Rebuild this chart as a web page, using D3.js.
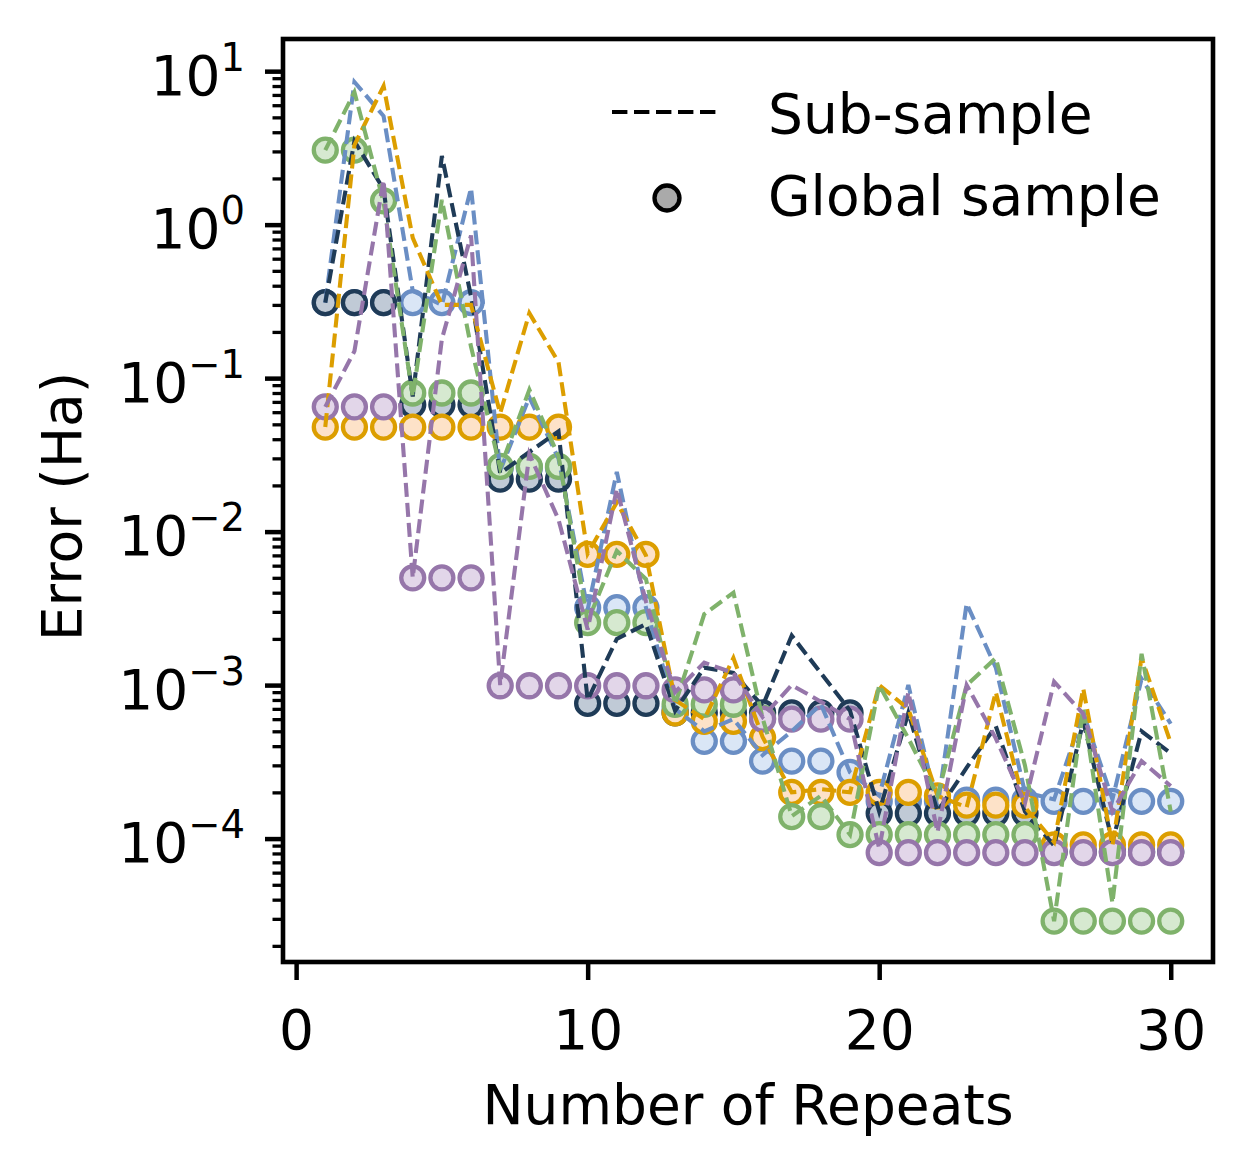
<!DOCTYPE html>
<html><head><meta charset="utf-8">
<script src="https://cdn.jsdelivr.net/npm/d3@7/dist/d3.min.js"></script>
<style>
body{margin:0;background:#fff}
text{font-family:"DejaVu Sans",sans-serif;fill:#000}
</style>
</head><body>
<svg id="chart" width="1253" height="1173"></svg>
<script>
// ---------------- data ----------------
const repeats = [1,2,3,4,5,6,7,8,9,10,11,12,13,14,15,16,17,18,19,20,21,22,23,24,25,26,27,28,29,30];

// Sub-sample (dashed lines)
const navySub   = [0.31,3.5,1.7,0.076,2.8,0.34,0.024,0.033,0.045,8e-4,2.0e-3,2.5e-3,6.8e-4,1.3e-3,1.2e-3,7.3e-4,2.1e-3,1.2e-3,6.8e-4,1.5e-4,6.6e-4,1.5e-4,2.9e-4,5.4e-4,1.5e-4,9e-5,5.8e-4,9.5e-5,5e-4,3.6e-4];
const blueSub   = [0.31,8.5,5.1,0.37,0.3,1.73,0.025,0.075,0.03,3.1e-3,0.0245,3.2e-3,7e-4,5e-4,6e-4,3.5e-4,5e-4,7.5e-4,2.7e-4,1.9e-4,1.0e-3,1.6e-4,3.4e-3,1.3e-3,2e-4,1.8e-4,6.6e-4,1.8e-4,1.1e-3,5.6e-4];
const orangeSub = [0.048,3.3,8.0,0.82,0.3,0.3,0.059,0.265,0.127,7.2e-3,0.0155,7e-3,8e-4,6e-4,1.5e-3,4.6e-4,2e-4,2.1e-4,2e-4,1e-3,7e-4,1.9e-4,1.6e-4,9e-4,1.6e-4,9.5e-5,9.5e-4,9e-5,1.5e-3,4.2e-4];
const greenSub  = [3.06,7.3,1.4,0.076,1.45,0.16,0.026,0.084,0.031,2.6e-3,7.5e-3,4.9e-3,7.5e-4,2.9e-3,4e-3,6.1e-4,1.4e-4,1.9e-4,1.06e-4,1e-3,4.5e-4,1.9e-4,1e-3,1.5e-3,3e-4,2.9e-5,7e-4,3.8e-5,1.6e-3,1.5e-4];
const purpleSub = [0.065,0.15,1.95,5e-3,0.18,0.85,1e-3,0.032,0.012,2.3e-3,0.019,3.5e-3,9e-4,1.4e-3,1.2e-3,6.2e-4,1.0e-3,7.8e-4,6e-4,8.6e-5,9e-4,1.1e-4,1e-3,4.5e-4,1.7e-4,1.05e-3,6.5e-4,1.5e-4,3.2e-4,2.2e-4];

// Global sample (circles)
const navyGlobal   = [0.31,0.31,0.31,0.067,0.067,0.067,0.022,0.022,0.022,7.6e-4,7.6e-4,7.6e-4,6.6e-4,6.6e-4,6.6e-4,6.6e-4,6.6e-4,6.6e-4,6.6e-4,1.46e-4,1.46e-4,1.46e-4,1.46e-4,1.46e-4,1.46e-4,8.2e-5,8.2e-5,8.2e-5,8.2e-5,8.2e-5];
const blueGlobal   = [0.31,0.31,0.31,0.31,0.31,0.31,0.026,0.026,0.026,3.2e-3,3.2e-3,3.2e-3,7e-4,4.3e-4,4.3e-4,3.2e-4,3.2e-4,3.2e-4,2.7e-4,1.75e-4,1.75e-4,1.75e-4,1.78e-4,1.78e-4,1.78e-4,1.75e-4,1.75e-4,1.75e-4,1.75e-4,1.75e-4];
const orangeGlobal = [0.048,0.048,0.048,0.048,0.048,0.048,0.048,0.048,0.048,7.1e-3,7.1e-3,7.1e-3,6.6e-4,5.8e-4,5.8e-4,4.55e-4,2.0e-4,2.0e-4,2.0e-4,2.0e-4,2.0e-4,1.9e-4,1.65e-4,1.65e-4,1.65e-4,9.1e-5,9.1e-5,9.1e-5,9.1e-5,9.1e-5];
const greenGlobal  = [3.06,3.06,1.43,0.080,0.080,0.080,0.0266,0.0266,0.0266,2.55e-3,2.55e-3,2.55e-3,7.5e-4,7.5e-4,7.5e-4,6.1e-4,1.39e-4,1.39e-4,1.06e-4,1.06e-4,1.06e-4,1.06e-4,1.06e-4,1.06e-4,1.06e-4,2.9e-5,2.9e-5,2.9e-5,2.9e-5,2.9e-5];
const purpleGlobal = [0.065,0.065,0.065,5.0e-3,5.0e-3,5.0e-3,9.9e-4,9.9e-4,9.9e-4,9.9e-4,9.9e-4,9.9e-4,9.3e-4,9.3e-4,9.3e-4,6.0e-4,6.0e-4,6.0e-4,6.0e-4,8.1e-5,8.1e-5,8.1e-5,8.1e-5,8.1e-5,8.1e-5,8.1e-5,8.1e-5,8.1e-5,8.1e-5,8.1e-5];

const seriesColors = ["#6a8ec4","#1f3b57","#dc9e00","#7fb26b","#9676aa"];
const seriesFills  = ["#dae6f6","#c0cad6","#fde2c8","#d6e9d0","#e2d6e9"];
const seriesSub    = [blueSub, navySub, orangeSub, greenSub, purpleSub];
const seriesGlobal = [blueGlobal, navyGlobal, orangeGlobal, greenGlobal, purpleGlobal];

const xTicks = [0,10,20,30];
const yMajorExp = [-4,-3,-2,-1,0,1];
const legendLabels = ["Sub-sample","Global sample"];
const xLabel = "Number of Repeats";
const yLabel = "Error (Ha)";

// ---------------- layout ----------------
const L=283, R=1213, T=39, B=962;
const FS=55;
const svg = d3.select("#chart");
const x = d3.scaleLinear().domain([-0.45,31.45]).range([L,R]);
const y = d3.scaleLog().domain([1.57e-5,16.2]).range([B,T]);

svg.append("defs").append("clipPath").attr("id","clip")
  .append("rect").attr("x",L).attr("y",T).attr("width",R-L).attr("height",B-T);

const plot = svg.append("g").attr("clip-path","url(#clip)");
const line = d3.line().x((d,i)=>x(repeats[i])).y(d=>y(d));

// circles first (global sample)
seriesColors.forEach((c,k)=>{
  plot.selectAll(null).data(seriesGlobal[k]).enter().append("circle")
    .attr("cx",(d,i)=>x(repeats[i])).attr("cy",d=>y(d)).attr("r",11.5)
    .attr("fill",seriesFills[k])
    .attr("stroke",c).attr("stroke-width",4.3);
});
// dashed lines on top (sub-sample)
seriesColors.forEach((c,k)=>{
  plot.append("path").datum(seriesSub[k])
    .attr("d",line).attr("fill","none").attr("stroke",c)
    .attr("stroke-width",4.1).attr("stroke-dasharray","14,6");
});

// axes
const yMajor = yMajorExp.map(e=>Math.pow(10,e));
const yMinor = [];
for(let e=-5;e<=1;e++) for(let m=2;m<=9;m++){const v=m*Math.pow(10,e); if(v>=y.domain()[0]&&v<=y.domain()[1]) yMinor.push(v);}

const gyMinor = svg.append("g").attr("transform",`translate(${L},0)`)
  .call(d3.axisLeft(y).tickValues(yMinor).tickSize(10.5).tickFormat(""));
gyMinor.select(".domain").remove();
gyMinor.selectAll("line").attr("stroke","#000").attr("stroke-width",3.3);

const gyMajor = svg.append("g").attr("transform",`translate(${L},0)`)
  .call(d3.axisLeft(y).tickValues(yMajor).tickSize(18).tickFormat(""));
gyMajor.select(".domain").remove();
gyMajor.selectAll("line").attr("stroke","#000").attr("stroke-width",4.5);
gyMajor.selectAll(".tick").each(function(d){
  const e = Math.round(Math.log10(d));
  const t = d3.select(this).append("text")
    .attr("x",-38).attr("y",23).attr("text-anchor","end")
    .attr("font-size",FS).attr("fill","#000");
  t.append("tspan").text("10");
  t.append("tspan").attr("dy",-24).attr("font-size",FS*0.7)
    .text(e<0 ? "\u2212"+Math.abs(e) : String(e));
});

const gx = svg.append("g").attr("transform",`translate(0,${B})`)
  .call(d3.axisBottom(x).tickValues(xTicks).tickSize(18).tickFormat(""));
gx.select(".domain").remove();
gx.selectAll("line").attr("stroke","#000").attr("stroke-width",4.5);
gx.selectAll(".tick").append("text").attr("y",87).attr("text-anchor","middle")
  .attr("font-size",FS).text(d=>d3.format("d")(d));

// frame
svg.append("rect").attr("x",L).attr("y",T).attr("width",R-L).attr("height",B-T)
  .attr("fill","none").attr("stroke","#000").attr("stroke-width",4.6);

// labels
svg.append("text").attr("x",(L+R)/2).attr("y",1124).attr("text-anchor","middle")
  .attr("font-size",FS).text(xLabel);
svg.append("text").attr("transform",`translate(81,${(T+B)/2+6}) rotate(-90)`)
  .attr("text-anchor","middle").attr("font-size",FS).text(yLabel);

// legend
const lg = svg.append("g");
lg.append("line").attr("x1",612).attr("x2",722).attr("y1",112).attr("y2",112)
  .attr("stroke","#000").attr("stroke-width",4.2).attr("stroke-dasharray","15.4,6.6");
lg.append("circle").attr("cx",667).attr("cy",198).attr("r",12.5)
  .attr("fill","#aaaaaa").attr("stroke","#000").attr("stroke-width",4.3);
lg.selectAll(null).data(legendLabels).enter().append("text")
  .attr("x",768).attr("y",(d,i)=>133+i*82).attr("font-size",FS).text(d=>d);
</script>
</body></html>
